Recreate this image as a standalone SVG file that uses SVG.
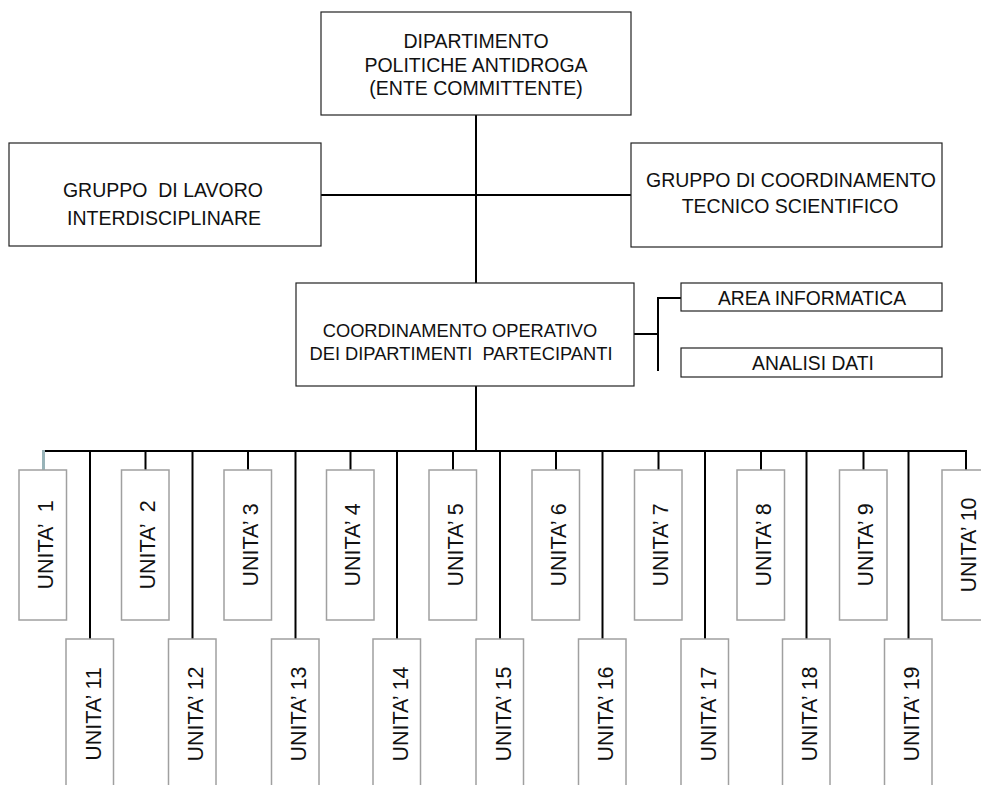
<svg xmlns="http://www.w3.org/2000/svg" width="981" height="785" viewBox="0 0 981 785">
<style>
  text { font-family: "Liberation Sans", Arial, sans-serif; fill: #111; text-anchor: middle; }
  .hdr { font-size: 19.5px; }
  .mid { font-size: 18.3px; }
  .side { font-size: 19.3px; }
  .unit { font-size: 21.5px; }
  .box { fill: #fff; stroke: #222; stroke-width: 1.2; }
  .ubox { fill: #fff; stroke: #a0a0a0; stroke-width: 1.5; }
  .conn { fill: none; stroke: #000; stroke-width: 2; }
</style>
<rect width="981" height="785" fill="#fff"/>
<g id="connectors">
  <line class="conn" x1="476" y1="115" x2="476" y2="283"/>
  <line class="conn" x1="321" y1="195" x2="631" y2="195"/>
  <line class="conn" x1="476" y1="386" x2="476" y2="451"/>
  <line class="conn" x1="634" y1="334" x2="658" y2="334"/>
  <polyline class="conn" points="681,298 658,298 658,371"/>
  <line class="conn" x1="43" y1="451" x2="967" y2="451"/>
  <line x1="43.5" y1="450" x2="43.5" y2="470" stroke="#98b3b8" stroke-width="3"/>
  <line class="conn" x1="145.5" y1="451" x2="145.5" y2="470"/>
  <line class="conn" x1="248" y1="451" x2="248" y2="470"/>
  <line class="conn" x1="350.5" y1="451" x2="350.5" y2="470"/>
  <line class="conn" x1="453" y1="451" x2="453" y2="470"/>
  <line class="conn" x1="556" y1="451" x2="556" y2="470"/>
  <line class="conn" x1="658.5" y1="451" x2="658.5" y2="470"/>
  <line class="conn" x1="761" y1="451" x2="761" y2="470"/>
  <line class="conn" x1="863.5" y1="451" x2="863.5" y2="470"/>
  <line class="conn" x1="966" y1="451" x2="966" y2="470"/>
  <line class="conn" x1="90" y1="451" x2="90" y2="639"/>
  <line class="conn" x1="192.5" y1="451" x2="192.5" y2="639"/>
  <line class="conn" x1="295.5" y1="451" x2="295.5" y2="639"/>
  <line class="conn" x1="397" y1="451" x2="397" y2="639"/>
  <line class="conn" x1="500" y1="451" x2="500" y2="639"/>
  <line class="conn" x1="602.5" y1="451" x2="602.5" y2="639"/>
  <line class="conn" x1="705" y1="451" x2="705" y2="639"/>
  <line class="conn" x1="806.5" y1="451" x2="806.5" y2="639"/>
  <line class="conn" x1="908.5" y1="451" x2="908.5" y2="639"/>
</g>
<g id="dipartimento">
  <rect class="box" x="321" y="12" width="310" height="103"/>
  <text class="hdr" x="476" y="48">DIPARTIMENTO</text>
  <text class="hdr" x="476" y="71.5">POLITICHE ANTIDROGA</text>
  <text class="hdr" x="476" y="95">(ENTE COMMITTENTE)</text>
</g>
<g id="gruppo-lavoro">
  <rect class="box" x="9" y="143" width="312" height="103"/>
  <text class="hdr" x="163" y="196.5" xml:space="preserve">GRUPPO  DI LAVORO</text>
  <text class="hdr" x="164" y="225">INTERDISCIPLINARE</text>
</g>
<g id="gruppo-coordinamento">
  <rect class="box" x="631" y="143" width="311" height="104"/>
  <text class="hdr" x="791" y="186.5">GRUPPO DI COORDINAMENTO</text>
  <text class="hdr" x="790" y="213">TECNICO SCIENTIFICO</text>
</g>
<g id="coordinamento-operativo">
  <rect class="box" x="296" y="283" width="338" height="103"/>
  <text class="mid" x="460" y="337">COORDINAMENTO OPERATIVO</text>
  <text class="mid" x="461" y="360" xml:space="preserve">DEI DIPARTIMENTI  PARTECIPANTI</text>
</g>
<g id="area-informatica">
  <rect class="box" x="681" y="283" width="261" height="28"/>
  <text class="side" x="812" y="305">AREA INFORMATICA</text>
</g>
<g id="analisi-dati">
  <rect class="box" x="681" y="348" width="261" height="29"/>
  <text class="side" x="813" y="370">ANALISI DATI</text>
</g>
<g id="unita-1"><rect class="ubox" x="19" y="470" width="47.5" height="150"/><text class="unit" transform="translate(52.75,545) rotate(-90)" xml:space="preserve">UNITA’  1</text></g>
<g id="unita-2"><rect class="ubox" x="121.5" y="470" width="47.5" height="150"/><text class="unit" transform="translate(155.25,545) rotate(-90)" xml:space="preserve">UNITA’  2</text></g>
<g id="unita-3"><rect class="ubox" x="224" y="470" width="47.5" height="150"/><text class="unit" transform="translate(257.75,545) rotate(-90)">UNITA’ 3</text></g>
<g id="unita-4"><rect class="ubox" x="326.5" y="470" width="47.5" height="150"/><text class="unit" transform="translate(360.25,545) rotate(-90)">UNITA’ 4</text></g>
<g id="unita-5"><rect class="ubox" x="429" y="470" width="47.5" height="150"/><text class="unit" transform="translate(462.75,545) rotate(-90)">UNITA’ 5</text></g>
<g id="unita-6"><rect class="ubox" x="532" y="470" width="47.5" height="150"/><text class="unit" transform="translate(565.75,545) rotate(-90)">UNITA’ 6</text></g>
<g id="unita-7"><rect class="ubox" x="634.5" y="470" width="47.5" height="150"/><text class="unit" transform="translate(668.25,545) rotate(-90)">UNITA’ 7</text></g>
<g id="unita-8"><rect class="ubox" x="737" y="470" width="47.5" height="150"/><text class="unit" transform="translate(770.75,545) rotate(-90)">UNITA’ 8</text></g>
<g id="unita-9"><rect class="ubox" x="839.5" y="470" width="47.5" height="150"/><text class="unit" transform="translate(873.25,545) rotate(-90)">UNITA’ 9</text></g>
<g id="unita-10"><rect class="ubox" x="942" y="470" width="47.5" height="150"/><text class="unit" transform="translate(975.75,545) rotate(-90)">UNITA’ 10</text></g>
<g id="unita-11"><rect class="ubox" x="66" y="639" width="47.5" height="150"/><text class="unit" transform="translate(100.5,714) rotate(-90)">UNITA’ 11</text></g>
<g id="unita-12"><rect class="ubox" x="168.5" y="639" width="47.5" height="150"/><text class="unit" transform="translate(203,714) rotate(-90)">UNITA’ 12</text></g>
<g id="unita-13"><rect class="ubox" x="271.5" y="639" width="47.5" height="150"/><text class="unit" transform="translate(306,714) rotate(-90)">UNITA’ 13</text></g>
<g id="unita-14"><rect class="ubox" x="373" y="639" width="47.5" height="150"/><text class="unit" transform="translate(407.5,714) rotate(-90)">UNITA’ 14</text></g>
<g id="unita-15"><rect class="ubox" x="476" y="639" width="47.5" height="150"/><text class="unit" transform="translate(510.5,714) rotate(-90)">UNITA’ 15</text></g>
<g id="unita-16"><rect class="ubox" x="578.5" y="639" width="47.5" height="150"/><text class="unit" transform="translate(613,714) rotate(-90)">UNITA’ 16</text></g>
<g id="unita-17"><rect class="ubox" x="681" y="639" width="47.5" height="150"/><text class="unit" transform="translate(715.5,714) rotate(-90)">UNITA’ 17</text></g>
<g id="unita-18"><rect class="ubox" x="782.5" y="639" width="47.5" height="150"/><text class="unit" transform="translate(817,714) rotate(-90)">UNITA’ 18</text></g>
<g id="unita-19"><rect class="ubox" x="884.5" y="639" width="47.5" height="150"/><text class="unit" transform="translate(919,714) rotate(-90)">UNITA’ 19</text></g>
</svg>
